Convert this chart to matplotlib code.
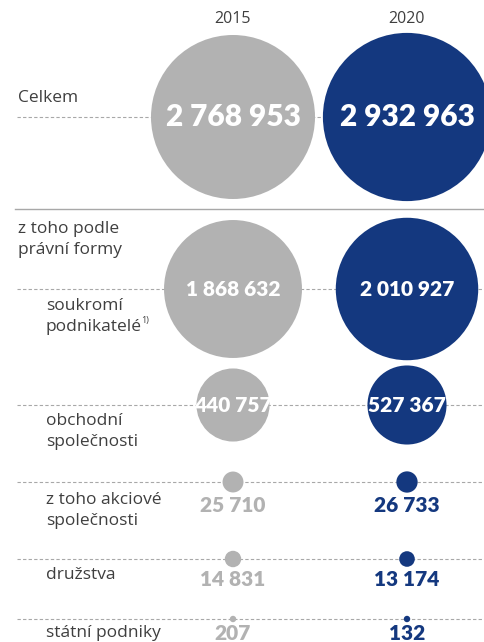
import matplotlib
matplotlib.use("Agg")
import matplotlib.pyplot as plt
from matplotlib.patches import Circle

# Data
years = ["2015", "2020"]
celkem = [2768953, 2932963]
row_labels = ["soukromí\npodnikatelé", "obchodní\nspolečnosti", "z toho akciové\nspolečnosti",
              "družstva", "státní podniky"]
values_2015 = [1868632, 440757, 25710, 14831, 207]
values_2020 = [2010927, 527367, 26733, 13174, 132]

# Layout (pixel coordinates, y down)
W, H = 485, 642
col_x = [233, 407]
celkem_y = 117
row_y = [289, 405, 482, 559, 619]
inside = [True, True, False, False, False]
label_dy = [17, 16, 18, 16, 14]
number_dy = [0, 0, 23, 21, 15]
gray = "#b2b2b2"
blue = "#14387f"
colors = [gray, blue]
text_col = "#3f3f3f"
line_col = "#a8a8a8"


def radius(v):
    # bubble size grows with value (compressed scale with a minimum)
    return max(3.2, 82 * (v / celkem[0]) ** 0.44)


def fmt(v):
    return f"{v:,}".replace(",", " ")


fig = plt.figure(figsize=(W / 100, H / 100), dpi=100)
ax = fig.add_axes([0, 0, 1, 1])
ax.set_xlim(0, W)
ax.set_ylim(H, 0)
ax.axis("off")

lab_font = dict(family="Open Sans", color=text_col, fontsize=12.5)
num_font = dict(family="Lato", fontweight="heavy")

# year headers
for x, y in zip(col_x, years):
    ax.text(x, 19, y, ha="center", va="center", fontsize=11.5, family="Open Sans", color=text_col)

# Celkem row
ax.plot([17, W], [celkem_y, celkem_y], color=line_col, lw=0.8, ls=(0, (3, 2)), zorder=1)
ax.text(18, 98, "Celkem", ha="left", va="center", **lab_font)
for x, v, c in zip(col_x, celkem, colors):
    ax.add_patch(Circle((x, celkem_y), radius(v), color=c, zorder=2, lw=0))
    ax.text(x, celkem_y, fmt(v), ha="center", va="center",
            color="white", fontsize=21.5, zorder=3, **num_font)

# separator
ax.plot([15, W], [209, 209], color=line_col, lw=1.0, zorder=1)
ax.text(18, 229, "z toho podle", ha="left", va="center", **lab_font)
ax.text(18, 250, "právní formy", ha="left", va="center", **lab_font)

for i, lab in enumerate(row_labels):
    y = row_y[i]
    ax.plot([17, W], [y, y], color=line_col, lw=0.8, ls=(0, (3, 2)), zorder=1)
    for j, ln in enumerate(lab.split("\n")):
        ax.text(46, y + label_dy[i] + j * 21, ln, ha="left", va="center", **lab_font)
    for x, v, c in zip(col_x, [values_2015[i], values_2020[i]], colors):
        ax.add_patch(Circle((x, y), radius(v), color=c, zorder=2, lw=0))
        if inside[i]:
            ax.text(x, y, fmt(v), ha="center", va="center", color="white", fontsize=15,
                    zorder=3, **num_font)
        else:
            ax.text(x, y + number_dy[i], fmt(v), ha="center", va="center", color=c,
                    fontsize=15, zorder=3, **num_font)

# footnote marker
ax.text(141, 320, "1)", ha="left", va="center", fontsize=6.5, family="Open Sans", color=text_col)

fig.savefig("out.png", dpi=100)
